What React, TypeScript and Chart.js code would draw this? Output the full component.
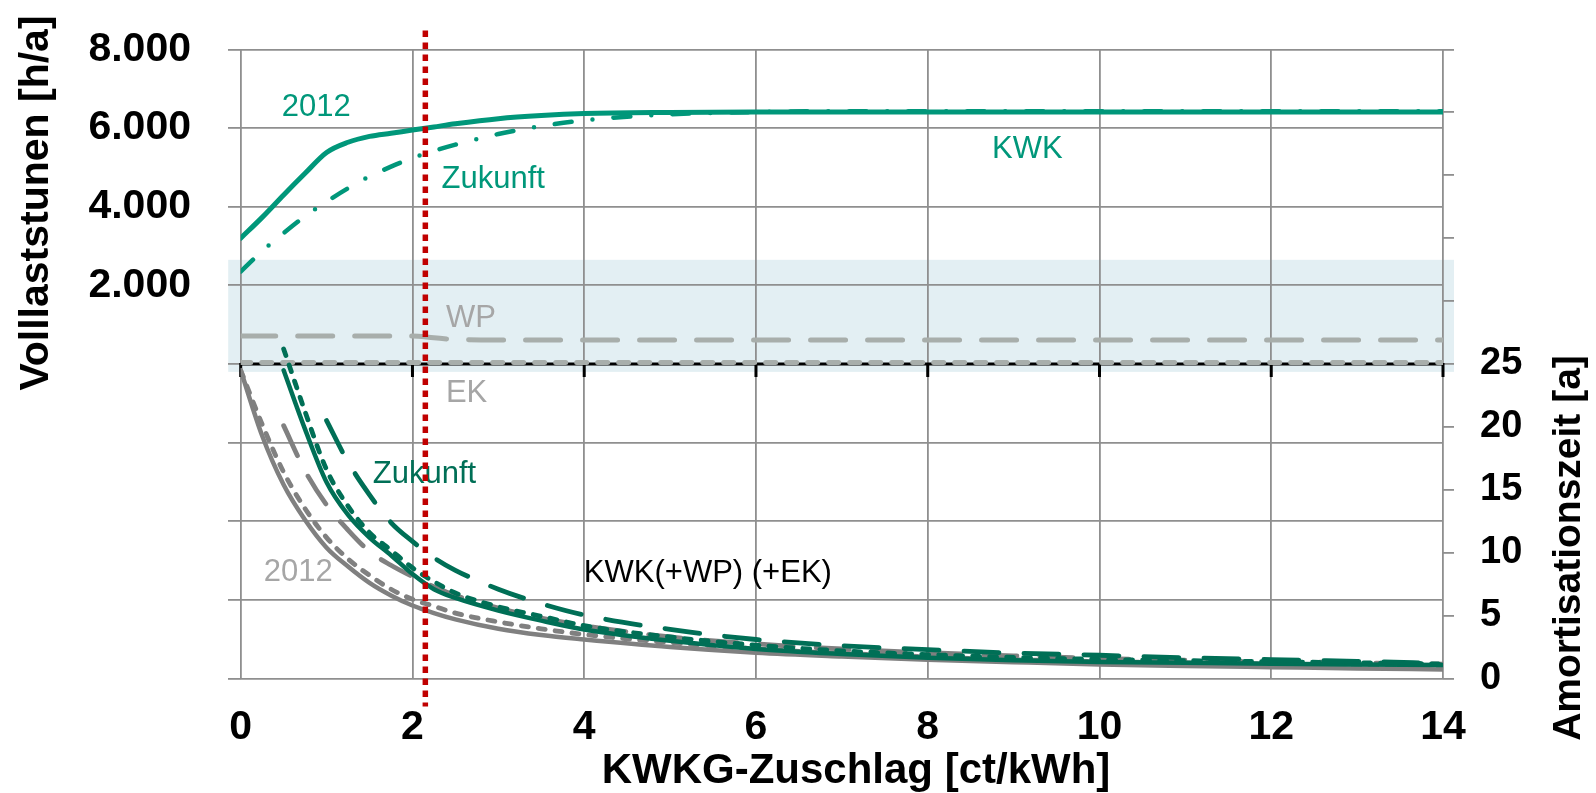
import React, { useEffect, useRef } from 'react';
import { Chart, registerables } from 'chart.js';

Chart.register(...registerables);

const FONT = '"Liberation Sans", Arial, Helvetica, sans-serif';

// ---- x grids (KWKG-Zuschlag, ct/kWh) ----
const xFull = [0, 0.25, 0.5, 0.75, 1, 1.25, 1.5, 1.75, 2, 2.25, 2.5, 3, 3.5, 4, 5, 6, 7, 8, 9, 10, 11, 12, 13, 14];
const xFromHalf = [0.5, 0.75, 1, 1.25, 1.5, 1.75, 2, 2.25, 2.5, 3, 3.5, 4, 5, 6, 7, 8, 9, 10, 11, 12, 13, 14];
const xFromOne = [1, 1.25, 1.5, 1.75, 2, 2.25, 2.5, 3, 3.5, 4, 5, 6, 7, 8, 9, 10, 11, 12, 13, 14];

// ---- Volllaststunden [h/a] (left axis) ----
const kwk2012Hours = [3200, 3730, 4300, 4850, 5380, 5640, 5790, 5870, 5950, 6030, 6110, 6240, 6320, 6370, 6400, 6410, 6410, 6410, 6410, 6410, 6410, 6410, 6410, 6410];
const kwkFutureHours = [2350, 2870, 3330, 3760, 4130, 4470, 4770, 5020, 5240, 5420, 5580, 5850, 6050, 6200, 6350, 6410, 6430, 6430, 6430, 6430, 6430, 6430, 6430, 6430];
const wpHours = [710, 710, 710, 710, 710, 710, 710, 710, 710, 665, 625, 610, 610, 610, 610, 610, 610, 610, 610, 610, 610, 610, 610, 610];
const ekHours = [35, 35, 35, 35, 35, 35, 35, 35, 35, 35, 35, 35, 35, 35, 35, 35, 35, 35, 35, 35, 35, 35, 35, 35];

// ---- Amortisationszeit [a] (right axis) ----
const payback2012Kwk = [24.5, 19.3, 15.4, 12.6, 10.4, 8.9, 7.6, 6.6, 5.8, 5.2, 4.7, 3.95, 3.45, 3.1, 2.5, 2.05, 1.75, 1.5, 1.3, 1.12, 1.0, 0.9, 0.8, 0.72];
const payback2012Wp = [24.5, 20.2, 16.4, 13.5, 11.2, 9.5, 8.2, 7.1, 6.3, 5.75, 5.2, 4.5, 3.95, 3.5, 2.85, 2.35, 2.0, 1.72, 1.5, 1.35, 1.25, 1.15, 1.05, 1.0];
const payback2012Ek = [20.1, 16.5, 13.8, 11.8, 10.1, 9.0, 8.1, 7.3, 6.6, 5.6, 4.8, 4.2, 3.3, 2.75, 2.35, 2.05, 1.8, 1.6, 1.45, 1.35, 1.25, 1.15];
const paybackFutureKwk = [24.5, 19.8, 15.6, 13.0, 11.2, 9.8, 8.3, 7.1, 6.4, 5.4, 4.6, 3.9, 3.0, 2.35, 1.95, 1.65, 1.45, 1.32, 1.25, 1.18, 1.12, 1.07];
const paybackFutureWp = [26.2, 21.2, 16.6, 13.7, 11.6, 10.2, 8.8, 7.7, 6.8, 5.7, 4.95, 4.2, 3.3, 2.65, 2.2, 1.9, 1.68, 1.52, 1.42, 1.33, 1.25, 1.15];
const paybackFutureEk = [20.5, 17.2, 14.6, 12.4, 10.9, 9.6, 8.6, 7.1, 5.95, 5.05, 3.9, 3.1, 2.6, 2.3, 2.02, 1.85, 1.65, 1.5, 1.36, 1.2];

// ---- reference marks ----
const subsidyMarker = 2.15;
const bandHours = [-200, 2650];
const zeroTickValues = [0, 2, 4, 6, 8, 10, 12, 14];

// ---- texts ----
const xTitle = 'KWKG-Zuschlag [ct/kWh]';
const leftTitle = 'Volllaststunen [h/a]';
const rightTitle = 'Amortisationszeit [a]';

const GREEN_UP = '#00977a';
const GREEN_DN = '#006f56';
const GRAY_DN = '#808080';
const GRAY_UP = '#a8aeab';
const LABEL_GRAY = '#a6a6a6';
const GRID = '#8f8f8f';

const annotations = [
  { text: '2012', x: 0.88, y: 6530, color: GREEN_UP },
  { text: 'Zukunft', x: 2.94, y: 4700, color: GREEN_UP },
  { text: 'KWK', x: 9.16, y: 5460, color: GREEN_UP },
  { text: 'WP', x: 2.68, y: 1150, color: LABEL_GRAY },
  { text: 'EK', x: 2.63, y: -760, color: LABEL_GRAY },
  { text: 'Zukunft', x: 2.14, y: -2820, color: GREEN_DN },
  { text: '2012', x: 0.67, y: -5300, color: LABEL_GRAY },
  { text: 'KWK(+WP) (+EK)', x: 5.44, y: -5330, color: '#000000' },
];

const zip = (xs: number[], ys: number[]) => xs.map((x, i) => ({ x, y: ys[i] }));

const fmtThousands = (v: number) => String(v).replace(/\B(?=(\d{3})+(?!\d))/g, '.');

const base = {
  pointRadius: 0,
  pointHoverRadius: 0,
  fill: false,
  cubicInterpolationMode: 'monotone' as const,
  borderCapStyle: 'round' as const,
  borderJoinStyle: 'round' as const,
};

const bandPlugin = {
  id: 'band',
  beforeDraw(chart: any) {
    const { ctx, chartArea, scales } = chart;
    const yTop = scales.yL.getPixelForValue(bandHours[1]);
    const yBot = scales.yL.getPixelForValue(bandHours[0]);
    ctx.save();
    ctx.fillStyle = '#e3eff3';
    ctx.fillRect(chartArea.left - 12.5, yTop, chartArea.right - chartArea.left + 23.5, yBot - yTop);
    ctx.restore();
  },
};

const zeroLinePlugin = {
  id: 'zeroLine',
  beforeDatasetsDraw(chart: any) {
    const { ctx, chartArea, scales } = chart;
    const y0 = scales.yL.getPixelForValue(0);
    ctx.save();
    ctx.strokeStyle = '#000';
    ctx.lineWidth = 3;
    ctx.beginPath();
    ctx.moveTo(chartArea.left, y0);
    ctx.lineTo(chartArea.right, y0);
    ctx.stroke();
    zeroTickValues.forEach((v) => {
      const x = scales.x.getPixelForValue(v);
      ctx.beginPath();
      ctx.moveTo(x, y0 - 1);
      ctx.lineTo(x, y0 + 13);
      ctx.stroke();
    });
    ctx.restore();
  },
};

const overlayPlugin = {
  id: 'overlay',
  afterDatasetsDraw(chart: any) {
    const { ctx, chartArea, scales } = chart;
    ctx.save();
    ctx.font = `31px ${FONT}`;
    ctx.textAlign = 'center';
    ctx.textBaseline = 'middle';
    annotations.forEach((a) => {
      ctx.fillStyle = a.color;
      ctx.fillText(a.text, scales.x.getPixelForValue(a.x), scales.yL.getPixelForValue(a.y));
    });
    const xr = scales.x.getPixelForValue(subsidyMarker);
    ctx.strokeStyle = '#c00000';
    ctx.lineWidth = 5.5;
    ctx.lineCap = 'butt';
    ctx.setLineDash([6.5, 5.5]);
    ctx.beginPath();
    ctx.moveTo(xr, chartArea.top - 19);
    ctx.lineTo(xr, chartArea.bottom + 28);
    ctx.stroke();
    ctx.restore();
  },
  afterDraw(chart: any) {
    const { ctx } = chart;
    ctx.save();
    ctx.fillStyle = '#000';
    ctx.textAlign = 'center';
    ctx.textBaseline = 'middle';
    ctx.font = `bold 42px ${FONT}`;
    ctx.fillText(xTitle, 856, 771);
    ctx.font = `bold 41px ${FONT}`;
    ctx.save();
    ctx.translate(37, 203);
    ctx.rotate(-Math.PI / 2);
    ctx.fillText(leftTitle, 0, 0);
    ctx.restore();
    ctx.font = `bold 39px ${FONT}`;
    ctx.save();
    ctx.translate(1569, 548);
    ctx.rotate(-Math.PI / 2);
    ctx.fillText(rightTitle, 0, 0);
    ctx.restore();
    ctx.restore();
  },
};

export default function App() {
  const ref = useRef<HTMLCanvasElement>(null);

  useEffect(() => {
    if (!ref.current) return;
    const chart = new Chart(ref.current, {
      type: 'line',
      data: {
        datasets: [
          { ...base, label: 'Zukunft KWK+EK', data: zip(xFromOne, paybackFutureEk), yAxisID: 'yR', borderColor: GREEN_DN, borderWidth: 4.8, borderDash: [35, 25] },
          { ...base, label: 'Zukunft KWK+WP', data: zip(xFromHalf, paybackFutureWp), yAxisID: 'yR', borderColor: GREEN_DN, borderWidth: 4.8, borderDash: [7, 10] },
          { ...base, label: 'Zukunft KWK', data: zip(xFromHalf, paybackFutureKwk), yAxisID: 'yR', borderColor: GREEN_DN, borderWidth: 4.5 },
          { ...base, label: '2012 KWK+EK', data: zip(xFromHalf, payback2012Ek), yAxisID: 'yR', borderColor: GRAY_DN, borderWidth: 4.8, borderDash: [33, 23] },
          { ...base, label: '2012 KWK+WP', data: zip(xFull, payback2012Wp), yAxisID: 'yR', borderColor: GRAY_DN, borderWidth: 4.8, borderDash: [7, 10] },
          { ...base, label: '2012 KWK', data: zip(xFull, payback2012Kwk), yAxisID: 'yR', borderColor: GRAY_DN, borderWidth: 4.5 },
          { ...base, label: 'KWK Zukunft', data: zip(xFull, kwkFutureHours), yAxisID: 'yL', borderColor: GREEN_UP, borderWidth: 4.5, borderDash: [17, 21, 0, 21] },
          { ...base, label: 'KWK 2012', data: zip(xFull, kwk2012Hours), yAxisID: 'yL', borderColor: GREEN_UP, borderWidth: 5 },
          { ...base, label: 'WP', data: zip(xFull, wpHours), yAxisID: 'yL', borderColor: GRAY_UP, borderWidth: 5, borderDash: [35, 22] },
          { ...base, label: 'EK', data: zip(xFull, ekHours), yAxisID: 'yL', borderColor: GRAY_UP, borderWidth: 5, borderDash: [10, 11] },
        ],
      },
      options: {
        animation: false,
        responsive: true,
        maintainAspectRatio: false,
        layout: { padding: { top: 49.5, left: 0, right: 0, bottom: 0 } },
        plugins: { legend: { display: false }, tooltip: { enabled: false } },
        events: [],
        scales: {
          x: {
            type: 'linear',
            position: 'bottom',
            min: 0,
            max: 14,
            afterFit: (s: any) => { s.height = 114.5; s.paddingLeft = 0; s.paddingRight = 0; },
            ticks: { stepSize: 2, autoSkip: false, color: '#000', padding: 25, font: { family: FONT, size: 41, weight: 'bold' }, maxRotation: 0 },
            grid: { color: GRID, lineWidth: 1.8, drawTicks: false },
            border: { display: false },
          },
          yL: {
            type: 'linear',
            position: 'left',
            min: -8000,
            max: 8000,
            afterFit: (s: any) => { s.width = 240.7; s.paddingTop = 0; s.paddingBottom = 0; },
            ticks: {
              stepSize: 2000,
              autoSkip: false,
              color: '#000',
              padding: 37,
              font: { family: FONT, size: 41, weight: 'bold' },
              callback: (v: any) => (Number(v) > 0 ? fmtThousands(Number(v)) : ''),
            },
            grid: { color: GRID, lineWidth: 1.8, tickLength: 12.7 },
            border: { display: false },
          },
          yR: {
            type: 'linear',
            position: 'right',
            min: 0,
            max: 50,
            afterFit: (s: any) => { s.width = 153; s.paddingTop = 0; s.paddingBottom = 0; },
            ticks: {
              stepSize: 5,
              autoSkip: false,
              color: '#000',
              padding: 26,
              font: { family: FONT, size: 38, weight: 'bold' },
              callback: (v: any) => (Number(v) <= 25 ? String(v) : ''),
            },
            grid: { color: GRID, lineWidth: 1.8, tickLength: 11, drawOnChartArea: false },
            border: { display: false },
          },
        },
      },
      plugins: [bandPlugin, zeroLinePlugin, overlayPlugin],
    } as any);
    return () => chart.destroy();
  }, []);

  return (
    <div style={{ position: 'fixed', left: 0, top: 0, width: 1596, height: 793, background: '#ffffff' }}>
      <canvas ref={ref} />
    </div>
  );
}
